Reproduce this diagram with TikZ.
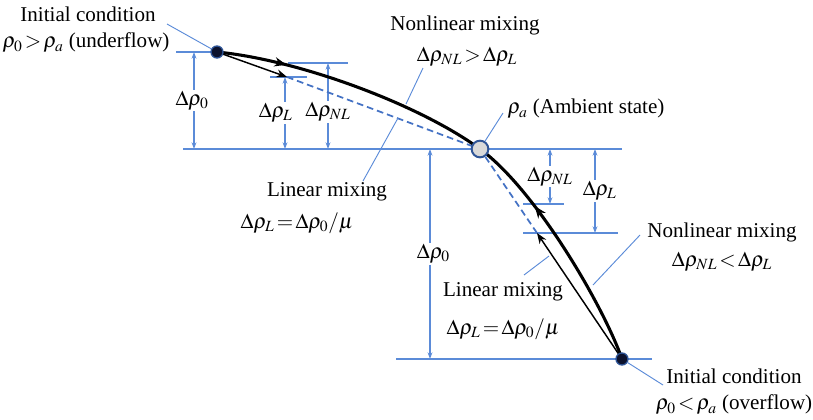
\documentclass[tikz,border=0pt]{standalone}
\usepackage{mathptmx}
\usepackage{fontspec}
\setmainfont{Liberation Serif}
\usetikzlibrary{arrows.meta,decorations.markings}

\definecolor{leadblue}{RGB}{91,139,216}
\definecolor{dashblue}{RGB}{68,114,196}
\definecolor{ringblue}{RGB}{47,85,151}
\definecolor{dotnavy}{RGB}{12,18,45}

\begin{document}
\begin{tikzpicture}[
  x=0.75pt, y=-0.75pt,
  font=\fontsize{15.8}{19}\selectfont,
  txt/.style={inner sep=0pt},
  dimlbl/.style={fill=white, text=black, inner sep=1pt},
  refline/.style={leadblue, line width=0.8pt},
  dimline/.style={{Stealth[length=5pt,width=3.6pt]}-{Stealth[length=5pt,width=3.6pt]}, leadblue, line width=0.8pt},
  leader/.style={leadblue, line width=0.7pt},
  linarr/.style={-{Stealth[length=8pt,width=6pt]}, line width=1.1pt},
  chord/.style={dashblue, line width=1.3pt, dash pattern=on 5pt off 3pt},
  mixcurve/.style={line width=2.3pt},
  midtip/.style={postaction=decorate, decoration={markings,
      mark=at position #1 with {\arrow{Stealth[length=9pt,width=7pt]}}}},
  state/.style={circle, draw=ringblue, fill=dotnavy, line width=1pt, minimum size=9pt, inner sep=0pt},
  ambient/.style={circle, draw=ringblue, fill=gray!30, line width=1.5pt, minimum size=12.5pt, inner sep=0pt}
]
\useasboundingbox (0,0) rectangle (813,419);

% states and mixing points
\coordinate (under) at (217,52);
\coordinate (amb) at (480,149);
\coordinate (over) at (622,359);
\coordinate (linU) at (287,77);
\coordinate (nlU) at (288,63);
\coordinate (linO) at (537,233);
\coordinate (nlO) at (540,204);

% reference levels and ticks
\coordinate (lvlU) at (176,52);
\coordinate (lvlA) at (183,149);
\coordinate (lvlO) at (396,359);
\draw[refline] (lvlU) -- (under);
\draw[refline] (lvlA) -- (amb -| over);
\draw[refline] (lvlO) -- ++(256,0);
\draw[refline] (linU) ++(-17,0) -- ++(37,0);
\draw[refline] (nlU) -- ++(60,0);
\draw[refline] (nlO) ++(-17,0) -- ++(41,0);
\draw[refline] (linO) ++(-14,0) -- ++(95,0);

% dimensions
\coordinate (d0U) at (194,52);
\coordinate (dLU) at (285,77);
\coordinate (dNLU) at (328,63);
\coordinate (d0O) at (430,149);
\coordinate (dNLO) at (550,149);
\coordinate (dLO) at (595,149);
\draw[dimline] (d0U) -- node[dimlbl, xshift=-1.5pt] (t0U) {$\Delta\rho_0$} (d0U |- amb);
\draw[dimline] (dLU) -- node[dimlbl, xshift=-7pt] (tLU) {$\Delta\rho_L$} (dLU |- amb);
\draw[dimline] (dNLU) -- node[dimlbl, pos=0.57] (tNLU) {$\Delta\rho_{NL}$} (dNLU |- amb);
\draw[dimline] (d0O) -- node[dimlbl, xshift=2.5pt] (t0O) {$\Delta\rho_0$} (d0O |- over);
\draw[dimline] (dNLO) -- node[dimlbl] (tNLO) {$\Delta\rho_{NL}$} (dNLO |- nlO);
\draw[dimline] (dLO) -- node[dimlbl, xshift=3.5pt] (tLO) {$\Delta\rho_L$} (dLO |- linO);

% linear mixing
\draw[chord] (linU) -- (amb);
\draw[chord] (linO) -- (amb);
\draw[linarr] (under) -- (linU);
\draw[linarr] (over) -- (linO);

% nonlinear mixing
\draw[mixcurve, midtip=0.25] (under) .. controls (300,60) and (420,105) .. (amb);
\draw[mixcurve, midtip=0.69] (over) .. controls (603,305) and (535,189) .. (amb);

\node[state] (underdot) at (under) {};
\node[state] (overdot) at (over) {};
\node[ambient] (ambdot) at (amb) {};

% labels
\node[txt] (icU1) at (88,14) {Initial condition};
\node[txt] (icU2) at (86,43) {$\rho_0\,{>}\,\rho_a$ (underflow)};
\node[txt] (nmU1) at (465,25) {Nonlinear mixing};
\node[txt] (nmU2) at (467,57) {$\Delta\rho_{NL}\,{>}\,\Delta\rho_L$};
\node[txt] (ambtxt) at (586,109) {$\rho_a$ (Ambient state)};
\node[txt] (lmU1) at (327,192) {Linear mixing};
\node[txt] (lmU2) at (297,223) {$\Delta\rho_L\,{=}\,\Delta\rho_0/\mu$};
\node[txt] (lmO1) at (503,292) {Linear mixing};
\node[txt] (lmO2) at (503,329) {$\Delta\rho_L\,{=}\,\Delta\rho_0/\mu$};
\node[txt] (nmO1) at (722,232) {Nonlinear mixing};
\node[txt] (nmO2) at (722,262) {$\Delta\rho_{NL}\,{<}\,\Delta\rho_L$};
\node[txt] (icO1) at (734,376) {Initial condition};
\node[txt] (icO2) at (734,405) {$\rho_0\,{<}\,\rho_a$ (overflow)};

% leaders
\coordinate (ldU) at (167,24);
\coordinate (ldNLa) at (423,68);
\coordinate (ldNLb) at (406,104);
\coordinate (ldAmb) at (503,113);
\coordinate (ldLa) at (363,181);
\coordinate (ldLb) at (398,118);
\coordinate (ldLOa) at (524,275);
\coordinate (ldLOb) at (549,256);
\coordinate (ldNOa) at (640,235);
\coordinate (ldNOb) at (593,285);
\coordinate (ldO) at (663,385);
\draw[leader] (ldU) -- (underdot);
\draw[leader] (ldNLa) -- (ldNLb);
\draw[leader] (ldAmb) -- (ambdot);
\draw[leader] (ldLa) -- (ldLb);
\draw[leader] (ldLOa) -- (ldLOb);
\draw[leader] (ldNOa) -- (ldNOb);
\draw[leader] (overdot) -- (ldO);

\end{tikzpicture}
\end{document}
